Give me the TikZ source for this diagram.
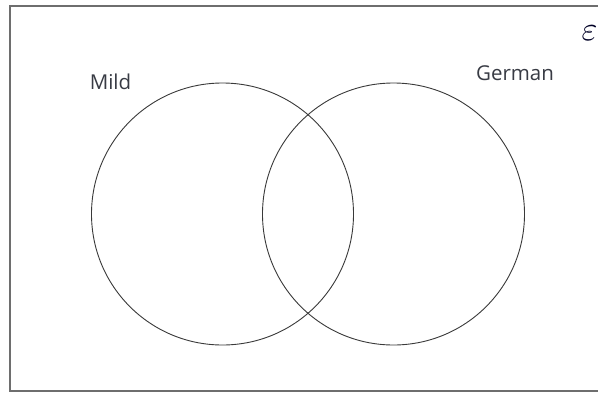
\documentclass[tikz,border=0pt]{standalone}
\usepackage{amsmath}
\usepackage{fontspec}
\setmainfont{Open Sans}
\definecolor{framegray}{HTML}{6E6E6E}
\definecolor{circlegray}{HTML}{3A3A3A}
\definecolor{labelgray}{HTML}{383B44}
\tikzset{
  setcircle/.style={circle, draw=circlegray, line width=0.9pt, minimum size=262pt, inner sep=0pt},
  setlabel/.style={font=\fontsize{20.5}{24}\selectfont, text=labelgray, inner sep=0pt, anchor=base}
}
\begin{document}
\begin{tikzpicture}[x=1pt,y=-1pt]
\useasboundingbox (0,0) rectangle (598,392);
\clip (0,0) rectangle (598,392);
\fill[white] (0,0) rectangle (598,392);
\draw[framegray, line width=2pt] (9.5,5.5) rectangle (610,390.5);
\node[setcircle] (mild) at (222.5,214) {};
\node[setcircle] (german) at (393.5,214) {};
\node[setlabel] (mildlabel) at (110.5,89) {Mild};
\node[setlabel] (germanlabel) at (515,80) {German};
\node[inner sep=0pt, text=black!85!blue, scale=3.4] (universe) at (589.5,33.5) {$\varepsilon$};
\end{tikzpicture}
\end{document}
